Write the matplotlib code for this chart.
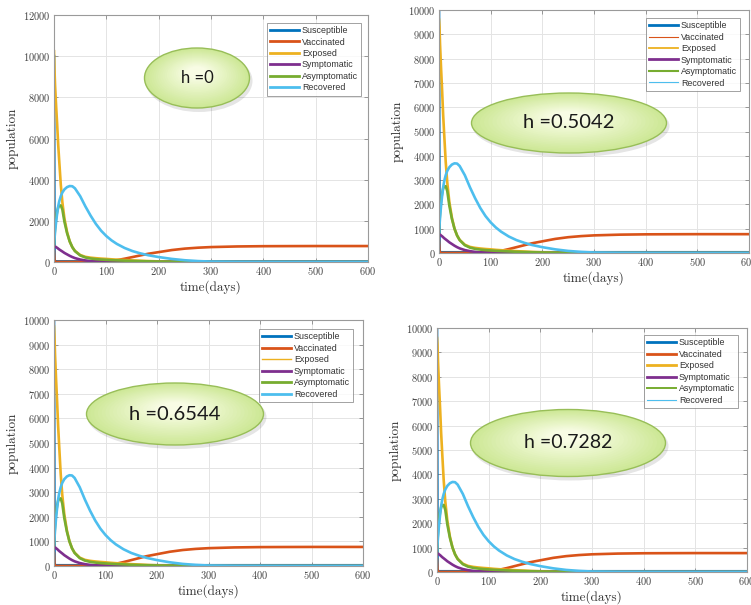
import matplotlib
matplotlib.use('Agg')
import matplotlib.pyplot as plt
from matplotlib.patches import Ellipse
import numpy as np

plt.rcParams['font.family'] = ['cmr10', 'DejaVu Serif']
plt.rcParams['axes.formatter.use_mathtext'] = True

# ---------------- data ----------------
t = [0, 1, 2, 4, 6, 8, 10, 13, 16, 20, 25, 30, 35, 40, 50, 60, 70, 80, 90,
     100, 110, 120, 135, 150, 165, 180, 200, 225, 250, 275, 300, 350, 400,
     450, 500, 550, 600]

susceptible = [10000, 120, 40, 30, 30, 30, 30, 30, 30, 30, 30, 30, 30, 30, 30,
               30, 30, 30, 30, 30, 30, 30, 30, 30, 30, 30, 30, 30, 30, 30, 30,
               30, 30, 30, 30, 30, 30]

vaccinated = [520, 40, 8, 5, 5, 5, 5, 5, 5, 5, 5, 5, 5, 5, 5, 5, 5, 8, 14,
              25, 50, 90, 160, 240, 320, 400, 480, 580, 650, 695, 725, 755,
              768, 772, 775, 775, 775]

exposed_start = [10240, 9600, 9730, 9590]
exposed_rest = [9300, 8600, 7600, 6700, 5700, 4900, 3750, 2900, 2100, 1450,
                1000, 720, 540, 340, 250, 210, 185, 165, 150, 130, 115, 95, 75,
                60, 45, 30, 18, 10, 5, 2, 0, 0, 0, 0, 0, 0]

symptomatic = [800, 780, 760, 720, 690, 650, 610, 560, 510, 440, 370, 300, 240,
               190, 120, 75, 45, 28, 18, 12, 8, 5, 3, 2, 1, 1, 0, 0, 0, 0, 0,
               0, 0, 0, 0, 0, 0]

asymptomatic = [850, 1300, 1650, 2150, 2450, 2650, 2730, 2750, 2550, 1950, 1400,
                1000, 720, 530, 320, 220, 170, 140, 120, 105, 90, 80, 65, 50,
                40, 30, 20, 12, 6, 3, 1, 0, 0, 0, 0, 0, 0]

recovered = [850, 1150, 1450, 1950, 2350, 2700, 2950, 3200, 3380, 3530, 3640,
             3690, 3680, 3580, 3200, 2700, 2250, 1850, 1520, 1260, 1050, 880,
             680, 530, 420, 330, 240, 150, 85, 45, 20, 8, 5, 3, 3, 3, 3]

labels = ['Susceptible', 'Vaccinated', 'Exposed', 'Symptomatic',
          'Asymptomatic', 'Recovered']
h_values = ['0', '0.5042', '0.6544', '0.7282']
y_max = [12000, 10000, 10000, 10000]
y_step = [2000, 1000, 1000, 1000]
x_ticks = [0, 100, 200, 300, 400, 500, 600]

# ---------------- styling / layout ----------------
colors = ['#0072BD', '#D95319', '#EDB120', '#7E2F8E', '#77AC30', '#4DBEEE']
W, H = 751, 605
boxes = [(54, 368, 15, 262), (439, 749, 10, 253),
         (54, 363, 320, 566), (437, 747, 328, 572)]
legend_anchor = [(0.978, 0.968), (0.971, 0.967), (0.968, 0.963), (0.971, 0.971)]
legend_lw = [[2.0] * 6,
             [2.0, 0.8, 1.3, 2.0, 1.5, 0.8],
             [2.0, 2.0, 1.0, 2.0, 2.0, 2.0],
             [2.0, 2.0, 2.0, 2.0, 1.4, 0.8]]
ellipse_geom = [(197, 78, 105, 60, 12), (569, 123, 195, 60, 14.5),
                (175, 414, 177, 62, 14.5), (568, 443, 195, 67, 14)]

fig = plt.figure(figsize=(W / 100, H / 100), dpi=100)
fig.patch.set_facecolor('white')

for i, (l, r, tp, b) in enumerate(boxes):
    ax = fig.add_axes([l / W, 1 - b / H, (r - l) / W, (b - tp) / H])
    exposed = [exposed_start[i]] + exposed_rest
    series = [susceptible, vaccinated, exposed, symptomatic, asymptomatic, recovered]
    for s, c, lab in zip(series, colors, labels):
        ax.plot(t, s, color=c, lw=1.9, label=lab, solid_joinstyle='round')
    ax.set_xlim(0, 600)
    ax.set_ylim(0, y_max[i])
    ax.set_xticks(x_ticks)
    ax.set_yticks(list(range(0, y_max[i] + 1, y_step[i])))
    ax.grid(True, color='#e4e4e4', lw=0.7)
    ax.set_axisbelow(True)
    ax.tick_params(direction='in', length=3, width=0.6, color='#888888',
                   top=True, right=True, labelsize=7.5, labelcolor='#444444', pad=2.5)
    for sp in ax.spines.values():
        sp.set_color('#9a9a9a')
        sp.set_linewidth(0.8)
    ax.set_xlabel('time(days)', fontsize=9.5, labelpad=2, color='#333333')
    ax.set_ylabel('population', fontsize=9.5, labelpad=3, color='#333333')
    leg = ax.legend(loc='upper right', bbox_to_anchor=legend_anchor[i],
                    borderaxespad=0, frameon=True, fancybox=False,
                    edgecolor='#777777', handlelength=3.3, handletextpad=0.3,
                    labelspacing=0.28, borderpad=0.35,
                    prop={'family': 'Liberation Sans', 'size': 6.4})
    leg.get_frame().set_linewidth(0.6)
    for txt in leg.get_texts():
        txt.set_color('#333333')
    for line, lw in zip(leg.get_lines(), legend_lw[i]):
        line.set_linewidth(lw)

# ---------------- callout ellipses ----------------
ov = fig.add_axes([0, 0, 1, 1], zorder=10)
ov.set_xlim(0, W)
ov.set_ylim(H, 0)
ov.axis('off')
ov.patch.set_alpha(0)

edge_col = np.array([0xcd, 0xe8, 0x96]) / 255
center_col = np.array([0xf8, 0xfc, 0xe4]) / 255

for (cx, cy, w, hgt, fs), hv in zip(ellipse_geom, h_values):
    ov.add_patch(Ellipse((cx + 2, cy + 3), w + 2, hgt + 2, facecolor='#000000',
                         alpha=0.10, lw=0))
    n = 20
    for k in range(n):
        f = 1 - 0.85 * k / n
        frac = k / (n - 1)
        col = edge_col * (1 - frac) + center_col * frac
        ov.add_patch(Ellipse((cx, cy - (1 - f) * hgt * 0.12), w * f, hgt * f,
                             facecolor=col, lw=0))
    ov.add_patch(Ellipse((cx, cy), w, hgt, facecolor='none',
                         edgecolor='#98be58', lw=1.0))
    ov.text(cx, cy, 'h =' + hv, ha='center', va='center', fontsize=fs,
            family='Lato', color='#1a1a1a')

fig.savefig('out.png', dpi=100)
